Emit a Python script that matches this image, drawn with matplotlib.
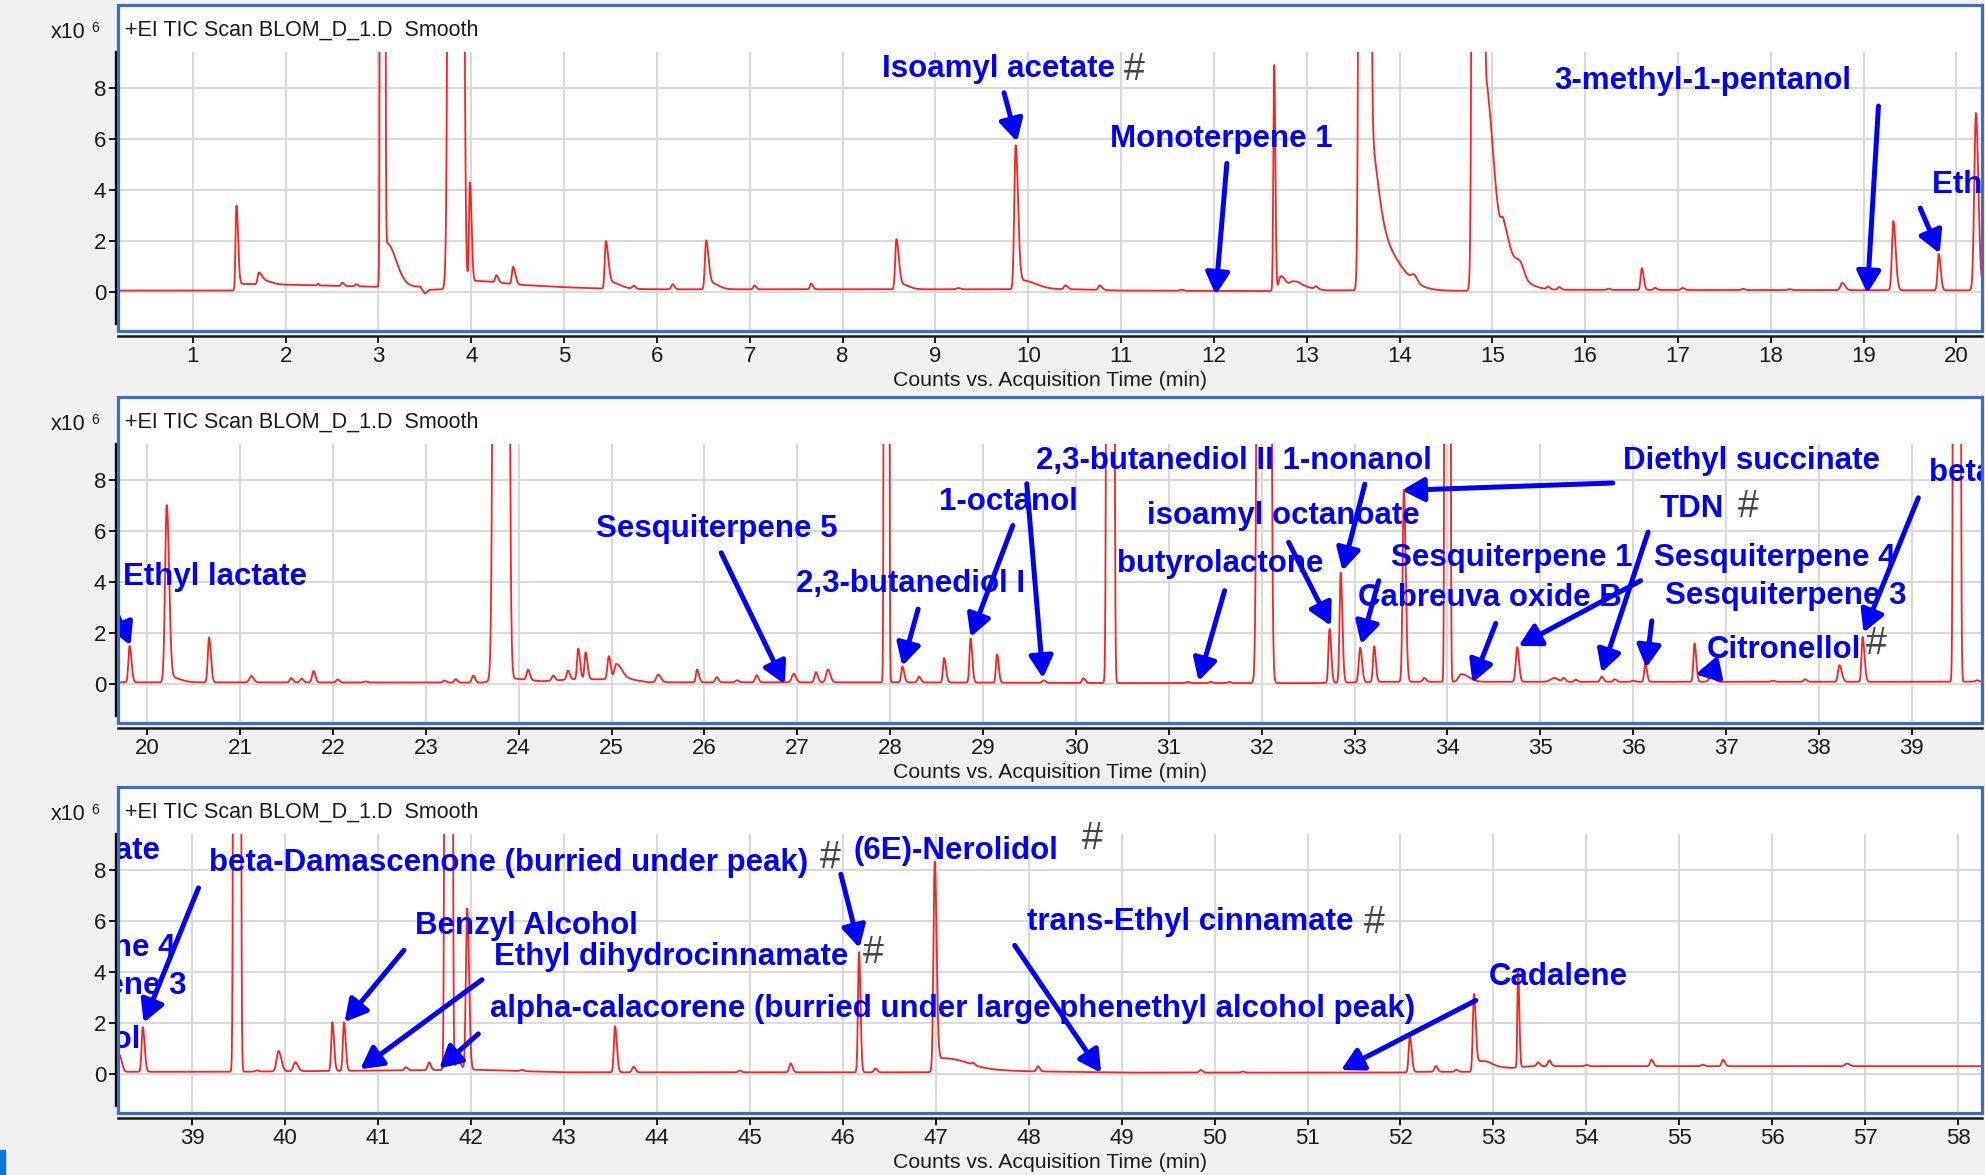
import numpy as np
import matplotlib
matplotlib.use("Agg")
import matplotlib.pyplot as plt
from matplotlib.patches import FancyArrowPatch, Rectangle, ArrowStyle

# ---------------- data: peak table of the TIC trace (min, x10^6 counts) ----------------
peak_rt = [
    1.47, 1.71, 1.76, 2.35, 2.61, 2.76, 3.045, 3.09, 3.83, 3.985,
    4.27, 4.45, 5.45, 5.50, 5.75, 6.17, 6.53, 6.58, 7.05, 7.66,
    8.58, 8.63, 9.25, 9.865, 9.93, 10.40, 10.77, 11.65, 12.65, 12.72,
    12.85, 13.10, 13.625, 13.66, 13.68, 14.16, 14.845, 14.95, 15.12, 15.30,
    15.60, 15.72, 16.25, 16.61, 16.75, 17.05, 17.70, 18.20, 18.77, 19.32,
    19.81, 20.21, 20.25, 20.665, 21.12, 21.55, 21.66, 21.79, 22.05, 22.35,
    23.20, 23.32, 23.51, 23.81, 24.10, 24.37, 24.53, 24.64, 24.72, 24.97,
    25.05, 25.50, 25.92, 26.13, 26.35, 26.56, 26.96, 27.20, 27.33, 27.96,
    28.13, 28.31, 28.58, 28.865, 29.15, 29.65, 30.08, 30.37, 31.20, 31.45,
    31.65, 32.025, 32.73, 32.85, 33.06, 33.21, 33.53, 33.75, 34.00, 34.15,
    34.75, 35.15, 35.25, 35.38, 35.66, 35.80, 36.00, 36.13, 36.66, 36.85,
    37.50, 37.85, 38.22, 38.47, 39.485, 39.70, 39.93, 40.11, 40.51, 40.635,
    41.30, 41.55, 41.76, 41.86, 41.96, 42.55, 43.55, 43.75, 44.89, 45.44,
    46.175, 46.35, 46.99, 47.05, 47.40, 48.10, 49.85, 50.30, 52.10, 52.38,
    52.60, 52.79, 52.85, 53.265, 53.48, 53.60, 54.00, 54.70, 55.25, 55.47,
    56.80, 14.92,
]
peak_height = [
    3.25, 0.45, 0.15, 0.06, 0.13, 0.08, 800, 1.7, 1000, 4.0,
    0.28, 0.68, 1.85, 0.25, 0.12, 0.20, 1.90, 0.25, 0.15, 0.22,
    1.95, 0.20, 0.05, 5.6, 0.35, 0.15, 0.18, 0.04, 8.8, 0.50,
    0.20, 0.10, 1000, 4.0, 2.4, 0.25, 1000, 2.2, 0.9, 0.5,
    0.10, 0.10, 0.05, 0.85, 0.08, 0.08, 0.05, 0.04, 0.28, 2.70,
    1.42, 6.90, 0.20, 1.75, 0.25, 0.17, 0.15, 0.45, 0.12, 0.04,
    0.08, 0.13, 0.27, 1000, 0.40, 0.20, 0.35, 1.20, 1.05, 0.90,
    0.60, 0.30, 0.50, 0.20, 0.08, 0.28, 0.33, 0.40, 0.50, 1000,
    0.62, 0.22, 0.95, 1.72, 1.10, 0.10, 0.18, 1000, 0.05, 0.05,
    0.05, 1000, 2.10, 4.30, 1.35, 1.40, 7.50, 0.15, 1000, 0.30,
    1.35, 0.15, 0.15, 0.08, 0.20, 0.10, 0.05, 0.70, 1.50, 0.20,
    0.05, 0.10, 0.65, 1.75, 1000, 0.05, 0.80, 0.35, 1.90, 1.90,
    0.12, 0.30, 1000, 0.40, 6.30, 0.05, 1.80, 0.22, 0.07, 0.35,
    4.70, 0.15, 8.20, 0.50, 0.08, 0.20, 0.10, 0.04, 1.42, 0.22,
    0.08, 3.00, 0.30, 3.85, 0.15, 0.22, 0.05, 0.25, 0.06, 0.25,
    0.10, 6.0,
]
peak_sigma_left = [
    .010, .012, .020, .010, .012, .012, .011, .020, .030, .010,
    .012, .012, .012, .020, .015, .015, .013, .020, .012, .012,
    .013, .020, .020, .015, .030, .015, .015, .020, .009, .020,
    .030, .015, .024, .020, .020, .030, .024, .020, .025, .050,
    .015, .015, .015, .012, .015, .015, .015, .015, .020, .015,
    .013, .018, .020, .013, .020, .015, .015, .015, .015, .020,
    .015, .015, .015, .032, .015, .015, .015, .012, .012, .015,
    .020, .020, .012, .015, .015, .015, .020, .015, .020, .011,
    .012, .015, .012, .012, .012, .015, .015, .016, .015, .015,
    .015, .028, .012, .012, .015, .012, .013, .015, .012, .030,
    .015, .040, .015, .015, .015, .015, .015, .012, .012, .030,
    .015, .015, .015, .012, .015, .015, .020, .020, .012, .012,
    .015, .015, .016, .020, .014, .020, .012, .015, .015, .015,
    .011, .015, .014, .020, .015, .015, .015, .015, .012, .015,
    .015, .012, .020, .008, .015, .015, .015, .015, .015, .015,
    .020, .020,
]
peak_sigma_right = [
    .018, .030, .080, .012, .020, .020, .011, .100, .033, .018,
    .020, .025, .025, .100, .020, .020, .025, .080, .020, .020,
    .025, .080, .020, .025, .150, .025, .025, .020, .012, .050,
    .080, .020, .024, .090, .250, .030, .024, .220, .060, .040,
    .020, .020, .020, .020, .020, .020, .020, .020, .030, .025,
    .020, .025, .100, .020, .025, .020, .020, .020, .020, .020,
    .020, .020, .020, .032, .020, .020, .020, .020, .020, .020,
    .060, .030, .020, .020, .020, .020, .025, .020, .025, .011,
    .020, .020, .020, .018, .018, .020, .020, .016, .020, .020,
    .020, .028, .018, .018, .020, .018, .020, .020, .012, .080,
    .020, .040, .020, .020, .020, .020, .020, .018, .018, .030,
    .020, .020, .025, .020, .015, .020, .030, .030, .018, .018,
    .020, .020, .016, .030, .020, .020, .020, .020, .020, .020,
    .016, .020, .020, .250, .020, .020, .020, .020, .020, .020,
    .020, .020, .100, .013, .020, .020, .020, .020, .020, .020,
    .030, .080,
]
baseline_time = [0.1, 1.45, 1.52, 2.0, 2.95, 3.45, 3.5, 3.55, 3.7, 3.95, 4.05, 4.2, 4.5,
                 5.0, 5.4, 6.0, 9.8, 10.5, 11.0, 12.6, 12.9, 13.2, 14.7, 15.5, 19.9,
                 23.6, 23.97, 24.25, 24.6, 25.2, 25.4, 28.0, 30.5, 32.6, 33.3, 39.4,
                 42.05, 43.0, 46.9, 47.3, 48.0, 49.0, 52.0, 52.2, 52.75, 52.95, 53.2,
                 53.4, 58.6]
baseline_level = [0.07, 0.07, 0.33, 0.30, 0.22, 0.22, -0.05, 0.10, 0.12, 0.20, 0.45, 0.42, 0.30,
                  0.20, 0.15, 0.12, 0.12, 0.12, 0.07, 0.05, 0.25, 0.08, 0.06, 0.10, 0.08,
                  0.07, 0.22, 0.12, 0.20, 0.20, 0.08, 0.08, 0.05, 0.05, 0.10, 0.10,
                  0.18, 0.08, 0.08, 0.20, 0.12, 0.07, 0.07, 0.10, 0.10, 0.30, 0.25,
                  0.32, 0.32]

# ---------------- annotations ----------------
label_text = ["Isoamyl acetate", "Monoterpene 1", "3-methyl-1-pentanol", "Ethyl lactate",
              "Sesquiterpene 5", "2,3-butanediol I", "1-octanol", "2,3-butanediol II 1-nonanol",
              "isoamyl octanoate", "butyrolactone", "Diethyl succinate", "TDN",
              "Sesquiterpene 1", "Sesquiterpene 4", "Cabreuva oxide B", "Sesquiterpene 3",
              "Citronellol", "beta-Damascenone (burried under peak)", "(6E)-Nerolidol",
              "Benzyl Alcohol", "Ethyl dihydrocinnamate",
              "alpha-calacorene (burried under large phenethyl alcohol peak)",
              "trans-Ethyl cinnamate", "Cadalene"]
label_t = [8.43, 10.88, 15.67, 19.74, 24.83, 26.99, 28.53, 29.57, 30.76, 30.44, 35.895, 36.28,
           33.39, 36.22, 33.04, 36.34, 36.79, 39.18, 46.12, 41.40, 42.25, 42.21, 47.98, 52.95]
label_y = [8.40, 5.69, 7.94, 3.88, 5.75, 3.59, 6.82, 8.40, 6.27, 4.38, 8.40, 6.53,
           4.64, 4.64, 3.07, 3.14, 1.04, 7.94, 8.43, 5.50, 4.29, 2.23, 5.66, 3.48]

hash_panel = [0, 1, 1, 2, 2, 2, 2]
hash_t = [11.03, 37.13, 38.50, 45.75, 48.57, 46.22, 51.61]
hash_y = [8.30, 6.53, 1.19, 8.08, 8.80, 4.35, 5.53]

arrow_tail_t = [9.74, 12.14, 19.16, 19.61, 26.18, 28.30, 29.32, 29.47, 33.11, 32.29, 31.60,
                35.78, 36.16, 39.07, 34.52, 33.26, 36.08, 36.20, 36.88, 45.98, 41.28, 42.12,
                42.08, 52.81, 47.85]
arrow_tail_y = [7.80, 5.04, 7.28, 3.29, 5.14, 2.94, 6.21, 7.84, 7.82, 5.55, 3.66,
                7.87, 5.95, 7.29, 2.38, 4.05, 4.05, 2.48, 0.55, 7.82, 4.85, 3.70,
                1.58, 2.89, 5.04]
arrow_tip_t = [9.88, 12.02, 19.04, 19.82, 26.865, 28.13, 28.865, 29.645, 32.87, 32.745, 31.32,
               33.51, 35.66, 38.48, 34.27, 33.07, 34.765, 36.14, 36.67, 46.18, 40.64, 40.81,
               41.66, 51.36, 48.78]
arrow_tip_y = [5.89, -0.10, -0.04, 1.52, 0.00, 0.72, 1.85, 0.24, 4.44, 2.29, 0.13,
               7.58, 0.46, 2.02, 0.06, 1.57, 1.50, 0.65, 0.39, 4.94, 2.04, 0.20,
               0.23, 0.17, 0.06]

y_ticks = [0, 2, 4, 6, 8]
panel_xlim = [(0.194, 20.27), (19.685, 39.75), (38.204, 58.25)]
title_text = "+EI TIC Scan BLOM_D_1.D  Smooth"
xlabel_text = "Counts vs. Acquisition Time (min)"

# ---------------- layout / style ----------------
W, H, DPI = 1985, 1175, 100
panel_top_px = [5, 397, 787]
panel_h_px = 326
frame_l_px, frame_r_px = 118, 1981.5
y_low, y_high = -1.51, 11.23
data_top, axis_low = 9.41, -1.21
BG = "#f0f0f0"
FRAME = "#3a6fc6"
GRID = "#d9d9d9"
TRACE = "#ff2020"
BLUE = "#0000ff"
TXT = "#1a1a1a"
SANS = ["Liberation Sans", "DejaVu Sans"]

plt.rcParams["font.family"] = SANS

fig = plt.figure(figsize=(W / DPI, H / DPI), dpi=DPI, facecolor=BG)

t = np.arange(0.1, 58.6, 0.002)
trace = np.interp(t, baseline_time, baseline_level)
for rt, h, sl, sr in zip(peak_rt, peak_height, peak_sigma_left, peak_sigma_right):
    s = np.where(t < rt, sl, sr)
    trace = trace + h * np.exp(-0.5 * ((t - rt) / s) ** 2)

astyle = ArrowStyle("-|>", head_length=0.55, head_width=0.3)

for i, (x0, x1) in enumerate(panel_xlim):
    top = panel_top_px[i]
    ax = fig.add_axes([frame_l_px / W, 1 - (top + panel_h_px) / H,
                       (frame_r_px - frame_l_px) / W, panel_h_px / H])
    ax.set_xlim(x0, x1)
    ax.set_ylim(y_low, y_high)
    ax.set_facecolor("white")
    ax.set_axisbelow(True)
    for sp in ["top", "right"]:
        ax.spines[sp].set_visible(False)
    ax.spines["left"].set_bounds(axis_low, data_top)
    ax.spines["left"].set_color("#000000")
    ax.spines["left"].set_linewidth(2.4)
    ax.spines["left"].set_position(("outward", 1.5))
    ax.spines["bottom"].set_position(("outward", 3.8))
    ax.spines["bottom"].set_color(TXT)
    ax.spines["bottom"].set_linewidth(1.8)

    xt = np.arange(np.ceil(x0), np.floor(x1) + 1)
    ax.set_xticks(xt)
    ax.set_xticklabels([str(int(v)) for v in xt])
    ax.set_yticks(y_ticks)
    ax.set_yticklabels([str(v) for v in y_ticks])
    ax.tick_params(axis="x", direction="out", length=5, width=1.4, colors=TXT,
                   labelsize=16, pad=2)
    ax.tick_params(axis="y", direction="out", length=5, width=1.4, colors=TXT,
                   labelsize=16, pad=2)
    ax.grid(axis="y", color=GRID, lw=1.4)
    ax.vlines(xt, y_low, data_top, color=GRID, lw=1.4, zorder=0.5)

    sel = (t >= x0 - 0.2) & (t <= x1 + 0.2)
    line, = ax.plot(t[sel], trace[sel], color=TRACE, lw=1.3, zorder=3)
    clip = Rectangle((x0, y_low), x1 - x0, data_top - y_low, transform=ax.transData)
    line.set_clip_path(clip)

    for s, lt, ly in zip(label_text, label_t, label_y):
        ax.text(lt, ly, s, color=BLUE, fontsize=22.5, fontweight="bold",
                ha="left", va="baseline", clip_on=True, zorder=5)
    for at, ay, bt, by in zip(arrow_tail_t, arrow_tail_y, arrow_tip_t, arrow_tip_y):
        ar = FancyArrowPatch((at, ay), (bt, by), arrowstyle=astyle, mutation_scale=24,
                             lw=3.6, color=BLUE, shrinkA=0, shrinkB=0, zorder=6)
        ax.add_patch(ar)
    for hp, ht, hy in zip(hash_panel, hash_t, hash_y):
        if hp == i:
            ax.text(ht, hy, "#", color="#454545", fontsize=27, ha="left",
                    va="baseline", clip_on=True, zorder=5)

    ax.add_patch(Rectangle((0, 0), 1, 1, transform=ax.transAxes, fill=False,
                           ec=FRAME, lw=2.3, clip_on=False, zorder=10))

    fig.text(125 / W, 1 - (top + 25) / H, title_text, fontsize=15.5, color=TXT,
             ha="left", va="center")
    fig.text(51 / W, 1 - (top + 27) / H, "x10", fontsize=15.5, color=TXT,
             ha="left", va="center")
    fig.text(91 / W, 1 - (top + 23) / H, "6", fontsize=10, color=TXT,
             ha="left", va="center")
    fig.text((frame_l_px + frame_r_px) / 2 / W, 1 - (top + panel_h_px + 49) / H,
             xlabel_text, fontsize=15.3, color=TXT, ha="center", va="center")

fig.patches.append(Rectangle((0, 0), 5 / W, 25 / H, transform=fig.transFigure,
                             color="#0b78d8", zorder=1))

fig.savefig("out.png", dpi=DPI, facecolor=BG)
